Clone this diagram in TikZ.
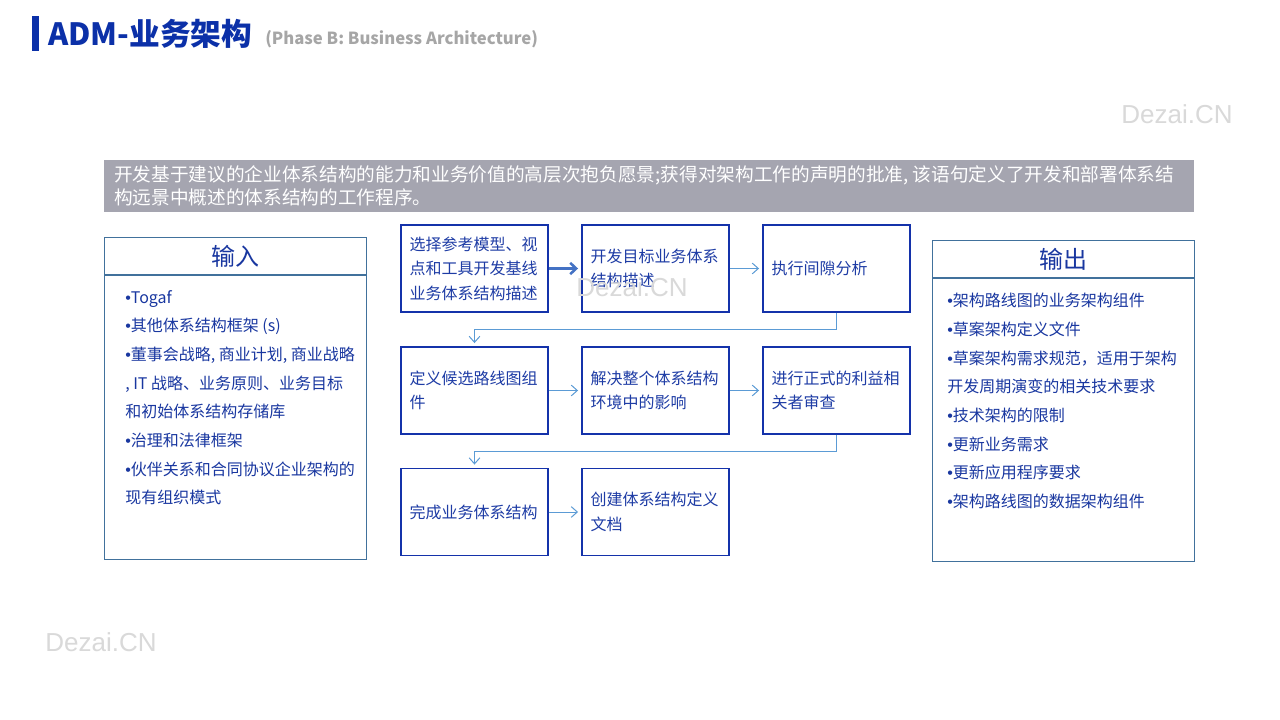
\documentclass[tikz,border=0pt]{standalone}
\usepackage{fontspec}
\setmainfont{Noto Sans CJK SC}
\newfontfamily\wmfont{Liberation Sans}
\newfontfamily\bulfont{Liberation Sans}
\newcommand\mybul{{\bulfont •}}
\usetikzlibrary{arrows.meta}
\definecolor{titleblue}{RGB}{11,48,168}
\definecolor{subgray}{RGB}{166,166,166}
\definecolor{bannerc}{RGB}{165,165,176}
\definecolor{pboxc}{RGB}{20,50,170}
\definecolor{ptext}{RGB}{30,60,165}
\definecolor{ioc}{RGB}{65,113,156}
\definecolor{iotext}{RGB}{25,55,160}
\definecolor{larrc}{RGB}{91,155,213}
\definecolor{tarrc}{RGB}{68,114,196}
\definecolor{wmc}{RGB}{217,217,217}
\begin{document}
\begin{tikzpicture}[x=0.75pt,y=-0.75pt,
  pbox/.style={draw=pboxc, line width=0.9pt, fill=white, minimum width=110.25pt, minimum height=65.25pt,
    text width=97.5pt, inner xsep=6.4pt, inner ysep=0pt, align=left, text=ptext,
    font=\fontsize{12}{18.4}\selectfont},
  iobox/.style={draw=ioc, line width=0.8pt, inner sep=0pt, anchor=north west},
  iohead/.style={text=iotext, inner sep=0pt, font=\fontsize{18}{20}\selectfont},
  iolist/.style={text=iotext, inner sep=0pt, anchor=north west, align=left, font=\fontsize{12}{21.5}\selectfont},
  larr/.style={draw=larrc, line width=0.75pt, -{Straight Barb[length=4.5pt,width=8pt]}, shorten >=2.5pt},
  tarr/.style={draw=tarrc, line width=1.9pt, -{Straight Barb[length=4.5pt,width=8.5pt]}, shorten >=2.5pt},
  wmark/.style={text=wmc, inner sep=0pt, font=\wmfont\fontsize{19.5}{20}\selectfont}
]
\useasboundingbox (0,0) rectangle (1280,720);
\fill[white] (0,0) rectangle (1280,720);

% title
\fill[titleblue] (32,16) rectangle (39,51);
\node[anchor=base west, inner sep=0pt, text=titleblue, font=\fontsize{23}{27}\selectfont\bfseries] (title) at (48,46) {ADM-业务架构};
\node[anchor=base west, inner sep=0pt, text=subgray, font=\fontsize{12.5}{15}\selectfont\bfseries] (subtitle) at (265,45) {(Phase B: Business Architecture)};

% banner
\fill[bannerc] (104,160) rectangle (1194,212);
\node[anchor=north west, inner sep=0pt, align=left, text=white, font=\fontsize{14}{17.25}\selectfont] (banner) at (114,165.5)
  {开发基于建议的企业体系结构的能力和业务价值的高层次抱负愿景;获得对架构工作的声明的批准, 该语句定义了开发和部署体系结\\
   构远景中概述的体系结构的工作程序。};

% input box
\node[iobox, minimum width=196.5pt, minimum height=241.5pt] (inbox) at (104,237) {};
\draw[ioc, line width=0.8pt] ([yshift=-28.5pt]inbox.north west) -- ([yshift=-28.5pt]inbox.north east);
\node[iohead] (inhead) at (235,256) {输入};
\node[iolist] (inlist) at (125,290)
  {\mybul Togaf\\
   \mybul 其他体系结构框架 (s)\\
   \mybul 董事会战略, 商业计划, 商业战略\\
   , IT 战略、业务原则、业务目标\\
   和初始体系结构存储库\\
   \mybul 治理和法律框架\\
   \mybul 伙伴关系和合同协议企业架构的\\
   现有组织模式};

% output box
\node[iobox, minimum width=196.5pt, minimum height=240.75pt] (outbox) at (932,240) {};
\draw[ioc, line width=0.8pt] ([yshift=-28.5pt]outbox.north west) -- ([yshift=-28.5pt]outbox.north east);
\node[iohead] (outhead) at (1063,259) {输出};
\node[iolist] (outlist) at (947,293)
  {\mybul 架构路线图的业务架构组件\\
   \mybul 草案架构定义文件\\
   \mybul 草案架构需求规范，适用于架构\\
   开发周期演变的相关技术要求\\
   \mybul 技术架构的限制\\
   \mybul 更新业务需求\\
   \mybul 更新应用程序要求\\
   \mybul 架构路线图的数据架构组件};

% process boxes
\node[pbox] (b1) at (474.5,268.5) {选择参考模型、视\\点和工具开发基线\\业务体系结构描述};
\node[pbox] (b2) at (655.5,268.5) {开发目标业务体系\\结构描述};
\node[pbox] (b3) at (836.5,268.5) {执行间隙分析};
\node[pbox] (b4) at (474.5,390.5) {定义候选路线图组\\件};
\node[pbox] (b5) at (655.5,390.5) {解决整个体系结构\\环境中的影响};
\node[pbox] (b6) at (836.5,390.5) {进行正式的利益相\\关者审查};
\node[pbox] (b7) at (474.5,512) {完成业务体系结构};
\node[pbox] (b8) at (655.5,512) {创建体系结构定义\\文档};

% connectors
\draw[tarr] (b1.east) -- (b2.west);
\draw[larr] (b2.east) -- (b3.west);
\draw[larr] (b3.south) -- ++(0,17) -| (b4.north);
\draw[larr] (b4.east) -- (b5.west);
\draw[larr] (b5.east) -- (b6.west);
\draw[larr] (b6.south) -- ++(0,17) -| (b7.north);
\draw[larr] (b7.east) -- (b8.west);

% watermarks
\node[wmark] (wm1) at (1177,114) {Dezai.CN};
\node[wmark] (wm2) at (632,287) {Dezai.CN};
\node[wmark] (wm3) at (101,642) {Dezai.CN};
\end{tikzpicture}
\end{document}
